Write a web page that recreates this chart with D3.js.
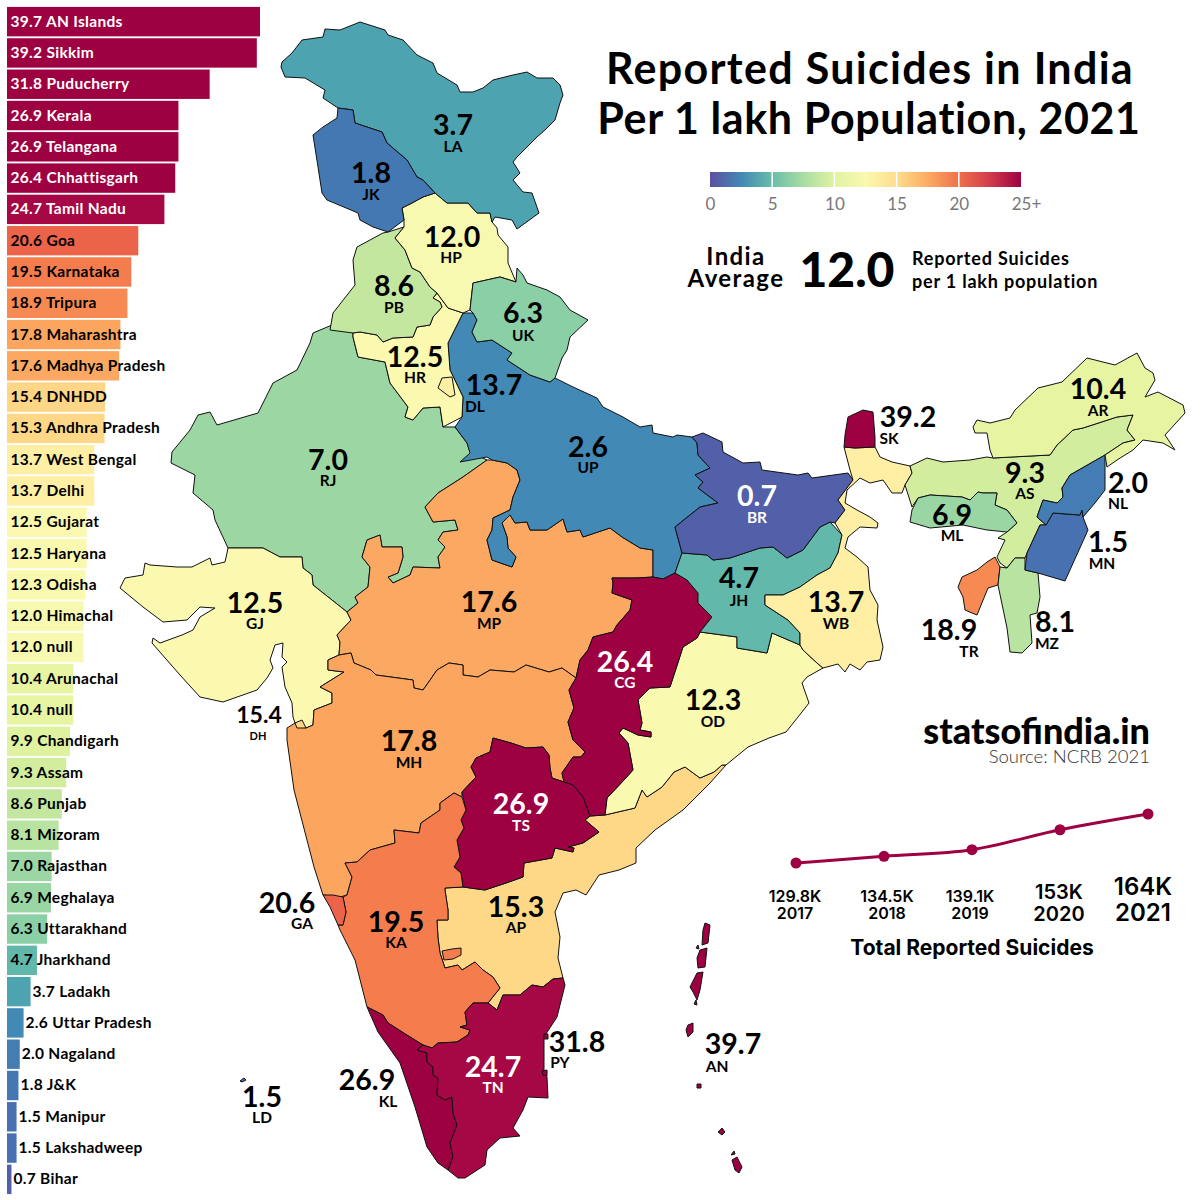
<!DOCTYPE html>
<html>
<head>
<meta charset="utf-8">
<script src="https://cdn.jsdelivr.net/npm/d3@7"></script>
<style>
  html, body { margin: 0; background: #fff; }
  svg { display: block; }
  text { font-family: Lato, sans-serif; font-weight: 700; fill: #000; }
</style>
</head>
<body>
<svg width="1201" height="1200"></svg>
<script>
// Ranking on the left
const barNames = ["AN Islands", "Sikkim", "Puducherry", "Kerala", "Telangana", "Chhattisgarh", "Tamil Nadu", "Goa", "Karnataka", "Tripura", "Maharashtra", "Madhya Pradesh", "DNHDD", "Andhra Pradesh", "West Bengal", "Delhi", "Gujarat", "Haryana", "Odisha", "Himachal", "null", "Arunachal", "null", "Chandigarh", "Assam", "Punjab", "Mizoram", "Rajasthan", "Meghalaya", "Uttarakhand", "Jharkhand", "Ladakh", "Uttar Pradesh", "Nagaland", "J&K", "Manipur", "Lakshadweep", "Bihar"];
const barValues = [39.7, 39.2, 31.8, 26.9, 26.9, 26.4, 24.7, 20.6, 19.5, 18.9, 17.8, 17.6, 15.4, 15.3, 13.7, 13.7, 12.5, 12.5, 12.3, 12.0, 12.0, 10.4, 10.4, 9.9, 9.3, 8.6, 8.1, 7.0, 6.9, 6.3, 4.7, 3.7, 2.6, 2.0, 1.8, 1.5, 1.5, 0.7];

// Map values
const stateCodes = ["LA", "JK", "HP", "PB", "HR", "UK", "DL", "RJ", "UP", "BR", "JH", "WB", "MP", "CG", "GJ", "OD", "MH", "TS", "AP", "KA", "TN", "KL", "PY", "AN", "LD", "GA", "DH", "SK", "AR", "AS", "NL", "ML", "MN", "MZ", "TR"];
const stateRates = [3.7, 1.8, 12.0, 8.6, 12.5, 6.3, 13.7, 7.0, 2.6, 0.7, 4.7, 13.7, 17.6, 26.4, 12.5, 12.3, 17.8, 26.9, 15.3, 19.5, 24.7, 26.9, 31.8, 39.7, 1.5, 20.6, 15.4, 39.2, 10.4, 9.3, 2.0, 6.9, 1.5, 8.1, 18.9];

// Small line chart
const totalYears = [2017, 2018, 2019, 2020, 2021];
const totalValues = [129.8, 134.5, 139.1, 153, 164];
const totalLabels = ["129.8K", "134.5K", "139.1K", "153K", "164K"];

const legendTicks = [0, 5, 10, 15, 20, 25];

// Traced outlines, in map units, drawn in this order
const shapes = {
  RJ: [[[332,325],[313,333],[310,343],[297,370],[273,383],[258,413],[217,425],[210,412],[198,415],[190,430],[172,452],[171,463],[195,475],[193,493],[213,510],[215,520],[228,548],[243,548],[263,548],[280,557],[302,557],[303,568],[312,575],[313,585],[342,608],[347,612],[358,603],[355,597],[368,587],[370,567],[362,557],[367,540],[380,535],[382,547],[402,547],[403,557],[398,573],[388,577],[393,583],[410,575],[413,567],[440,568],[438,557],[445,547],[438,540],[443,532],[458,530],[455,520],[433,522],[425,507],[438,493],[463,477],[487,460],[470,452],[467,443],[455,427],[443,427],[440,407],[423,408],[413,420],[405,417],[408,407],[390,383],[385,362],[358,357],[353,337],[353,333]]],
  GJ: [[[228,548],[243,548],[263,548],[280,557],[302,557],[303,568],[312,575],[313,585],[342,608],[347,612],[351,620],[337,635],[340,642],[339,655],[328,660],[328,670],[344,672],[320,687],[332,693],[332,703],[314,710],[313,725],[306,728],[295,723],[293,717],[292,703],[285,687],[282,667],[287,662],[282,657],[283,643],[275,645],[270,660],[273,668],[267,678],[257,690],[223,702],[200,697],[180,675],[152,643],[153,638],[160,643],[182,635],[193,630],[200,617],[215,608],[200,607],[187,620],[163,622],[143,607],[120,588],[125,578],[143,575],[145,563],[150,565],[177,567],[192,567],[210,558],[212,565],[225,562],[227,553]]],
  MP: [[[347,612],[358,603],[355,597],[368,587],[370,567],[362,557],[367,540],[380,535],[382,547],[402,547],[403,557],[398,573],[388,577],[393,583],[410,575],[413,567],[440,568],[438,557],[445,547],[438,540],[443,532],[458,530],[455,520],[433,522],[425,507],[438,493],[463,477],[487,460],[492,460],[507,463],[517,470],[520,480],[513,497],[510,510],[493,518],[492,530],[487,540],[492,560],[512,567],[516,557],[508,548],[507,537],[502,523],[510,515],[515,523],[527,522],[530,530],[547,530],[563,519],[567,532],[580,530],[583,537],[610,528],[622,537],[640,548],[653,550],[653,577],[637,578],[612,578],[613,583],[612,593],[632,600],[630,610],[617,625],[613,632],[593,637],[588,650],[580,660],[576,678],[562,668],[549,672],[526,665],[514,672],[490,670],[478,677],[463,675],[463,665],[449,663],[437,670],[428,683],[423,690],[414,688],[413,680],[376,675],[371,670],[354,663],[351,653],[339,655],[340,642],[337,635],[351,620]]],
  MH: [[[339,655],[351,653],[354,663],[371,670],[376,675],[413,680],[414,688],[423,690],[428,683],[437,670],[449,663],[463,665],[463,675],[478,677],[490,670],[514,672],[526,665],[549,672],[562,668],[576,678],[569,690],[574,708],[568,722],[573,740],[585,752],[581,757],[573,757],[562,773],[564,782],[552,778],[550,768],[549,755],[543,747],[526,748],[511,743],[493,738],[490,752],[476,758],[471,767],[476,777],[462,792],[462,797],[454,793],[440,803],[440,810],[421,823],[419,833],[394,830],[395,843],[370,850],[357,862],[345,863],[352,877],[347,895],[340,897],[323,895],[314,867],[294,790],[287,740],[287,728],[295,723],[306,728],[313,725],[314,710],[332,703],[332,693],[320,687],[344,672],[328,670],[328,660]]],
  UP: [[[463,313],[473,313],[477,320],[472,332],[477,342],[492,340],[512,353],[507,360],[530,375],[550,382],[555,378],[573,387],[597,398],[603,407],[623,417],[640,427],[652,425],[653,433],[673,437],[677,435],[692,437],[697,443],[698,455],[710,468],[695,475],[703,482],[698,488],[718,503],[700,507],[675,527],[682,553],[675,573],[663,579],[653,577],[653,550],[640,548],[622,537],[610,528],[583,537],[580,530],[567,532],[563,519],[547,530],[530,530],[527,522],[515,523],[510,515],[502,523],[507,537],[508,548],[516,557],[512,567],[492,560],[487,540],[492,530],[493,518],[510,510],[513,497],[520,480],[517,470],[507,463],[492,460],[487,457],[460,462],[470,453],[467,443],[455,427],[462,417],[463,397],[450,370],[448,343]]],
  HR: [[[437,293],[448,308],[463,313],[448,343],[450,370],[463,397],[462,417],[443,427],[440,407],[423,408],[413,420],[405,417],[408,407],[390,383],[385,362],[358,357],[353,337],[353,333],[360,332],[377,335],[383,342],[393,338],[413,337],[417,327],[430,325],[433,317],[442,307],[440,302],[433,298]]],
  DL: [[[442,378],[452,377],[455,395],[450,397],[438,388]]],
  PB: [[[388,232],[404,227],[395,238],[405,250],[412,268],[420,272],[430,287],[437,293],[433,298],[440,302],[442,307],[433,317],[430,325],[417,327],[413,337],[393,338],[383,342],[377,335],[360,332],[353,333],[330,330],[333,313],[355,285],[353,260],[357,247],[383,233]]],
  HP: [[[435,193],[447,203],[468,203],[477,213],[490,213],[492,222],[497,228],[498,235],[508,247],[508,263],[516,282],[500,277],[473,283],[470,310],[463,313],[448,308],[437,293],[430,287],[420,272],[412,268],[405,250],[395,238],[404,227],[404,220],[402,208],[412,203],[423,197]]],
  UK: [[[516,282],[517,268],[523,275],[527,283],[547,290],[560,297],[570,310],[588,320],[570,337],[567,350],[562,358],[555,378],[550,382],[530,375],[507,360],[512,353],[492,340],[477,342],[472,332],[477,320],[473,313],[470,310],[473,283],[500,277]]],
  LA: [[[282,62],[292,53],[302,40],[323,37],[325,29],[340,30],[360,22],[385,30],[388,35],[403,40],[417,55],[433,63],[437,73],[457,85],[460,92],[473,92],[483,88],[493,80],[513,75],[527,72],[537,78],[553,78],[560,85],[563,95],[560,103],[555,120],[545,130],[537,137],[517,157],[513,162],[520,173],[513,180],[523,192],[532,193],[539,213],[517,229],[512,220],[495,217],[492,222],[490,213],[477,213],[468,203],[447,203],[435,193],[423,180],[417,177],[407,160],[387,143],[382,132],[355,123],[353,110],[338,108],[323,98],[325,90],[305,78],[285,77],[281,67]]],
  JK: [[[338,108],[353,110],[355,123],[382,132],[387,143],[407,160],[417,177],[423,180],[435,193],[423,197],[412,203],[402,208],[404,220],[388,232],[373,227],[360,220],[358,213],[327,200],[322,193],[318,167],[313,135],[323,127],[337,118]]],
  AP: [[[585,820],[590,816],[605,815],[635,808],[642,790],[647,797],[662,787],[674,772],[685,767],[700,778],[714,772],[722,765],[726,765],[710,783],[683,810],[655,830],[636,848],[636,863],[619,870],[599,875],[586,895],[576,890],[563,893],[555,912],[560,937],[558,958],[563,978],[553,979],[543,987],[532,985],[520,995],[503,995],[497,1010],[488,1003],[500,988],[493,977],[483,970],[475,962],[462,970],[458,965],[445,968],[440,953],[438,938],[437,920],[448,920],[448,910],[445,890],[445,888],[463,887],[485,890],[506,883],[523,877],[524,863],[552,858],[555,848],[573,852],[574,848],[568,847],[583,843],[599,832]]],
  OD: [[[697,638],[700,632],[737,637],[737,648],[767,653],[772,633],[800,645],[803,650],[817,663],[823,668],[807,677],[802,683],[809,703],[798,717],[786,732],[769,738],[748,747],[726,765],[722,765],[714,772],[700,778],[685,767],[674,772],[662,787],[647,797],[642,790],[635,808],[605,815],[607,798],[624,780],[633,770],[628,743],[619,733],[623,728],[638,735],[651,737],[651,732],[640,730],[642,723],[638,700],[650,688],[670,687],[683,647]]],
  CG: [[[612,578],[637,578],[653,577],[663,579],[675,573],[687,580],[698,593],[698,603],[712,617],[700,632],[697,638],[683,647],[670,687],[650,688],[638,700],[642,723],[640,730],[651,732],[651,737],[638,735],[623,728],[619,733],[628,743],[633,770],[624,780],[607,798],[605,815],[590,816],[583,797],[573,785],[564,782],[562,773],[573,757],[581,757],[585,752],[573,740],[568,722],[574,708],[569,690],[576,678],[580,660],[588,650],[593,637],[613,632],[617,625],[630,610],[632,600],[612,593],[613,583]]],
  TS: [[[493,738],[511,743],[526,748],[543,747],[549,755],[550,768],[552,778],[564,782],[573,785],[583,797],[590,816],[585,820],[599,832],[583,843],[568,847],[574,848],[573,852],[555,848],[552,858],[524,863],[523,877],[506,883],[485,890],[463,887],[461,873],[454,867],[460,857],[457,840],[464,828],[461,820],[466,810],[462,792],[476,777],[471,767],[476,758],[490,752]]],
  KA: [[[462,797],[466,810],[461,820],[464,828],[457,840],[460,857],[454,867],[461,873],[463,887],[445,888],[445,890],[448,910],[448,920],[437,920],[438,938],[440,953],[445,968],[458,965],[462,970],[475,962],[483,970],[493,977],[500,988],[488,1003],[473,1003],[465,1012],[467,1025],[460,1027],[470,1030],[468,1035],[457,1042],[438,1043],[432,1048],[423,1045],[410,1037],[388,1023],[383,1015],[367,1007],[355,960],[340,930],[338,925],[343,925],[346,912],[343,897],[347,895],[352,877],[345,863],[357,862],[370,850],[395,843],[394,830],[419,833],[421,823],[440,810],[440,803],[454,793]],
       [[442,951],[452,949],[461,948],[461,955],[453,959],[444,960]]],
  GA: [[[323,895],[333,895],[343,897],[346,912],[343,925],[338,925],[330,907]]],
  KL: [[[367,1007],[383,1015],[388,1023],[410,1037],[423,1045],[417,1050],[427,1053],[427,1062],[433,1067],[433,1075],[438,1078],[437,1095],[445,1100],[452,1097],[453,1113],[457,1125],[450,1143],[453,1157],[448,1170],[438,1163],[427,1147],[415,1107],[400,1063],[378,1032]]],
  TN: [[[553,979],[563,978],[565,985],[557,1017],[544,1037],[544,1072],[547,1077],[548,1098],[528,1097],[523,1110],[513,1128],[520,1136],[500,1138],[487,1150],[485,1165],[465,1178],[458,1178],[448,1170],[453,1157],[450,1143],[457,1125],[453,1113],[452,1097],[445,1100],[437,1095],[438,1078],[433,1075],[433,1067],[427,1062],[427,1053],[417,1050],[423,1045],[432,1048],[438,1043],[457,1042],[468,1035],[470,1030],[460,1027],[467,1025],[465,1012],[473,1003],[488,1003],[497,1010],[503,995],[520,995],[532,985],[543,987]]],
  PY: [[[544,1034],[548,1034],[548,1039],[544,1039]], [[542,1071],[547,1070],[547,1076],[543,1075]]],
  JH: [[[682,553],[707,555],[713,560],[730,558],[760,548],[773,547],[787,558],[803,550],[820,527],[830,522],[842,535],[838,553],[830,568],[817,575],[800,587],[783,595],[765,595],[765,605],[788,620],[800,633],[800,645],[772,633],[767,653],[737,648],[737,637],[700,632],[712,617],[698,603],[698,593],[687,580],[675,573]]],
  BR: [[[692,437],[703,433],[722,442],[723,452],[743,463],[760,462],[762,470],[798,475],[808,473],[812,478],[848,473],[853,480],[838,500],[845,510],[835,523],[830,522],[820,527],[803,550],[787,558],[773,547],[760,548],[730,558],[713,560],[707,555],[682,553],[675,527],[700,507],[718,503],[698,488],[703,482],[695,475],[710,468],[698,455],[697,443]]],
  WB: [[[844,447],[855,448],[875,447],[880,457],[892,462],[910,466],[912,473],[905,485],[902,493],[892,493],[883,480],[870,483],[860,478],[847,490],[845,503],[857,510],[870,517],[878,523],[877,528],[860,527],[848,537],[845,548],[857,557],[868,567],[870,590],[878,605],[877,620],[883,647],[880,660],[867,662],[860,670],[850,664],[845,672],[838,664],[823,668],[817,663],[803,650],[800,645],[800,633],[788,620],[765,605],[765,595],[783,595],[800,587],[817,575],[830,568],[838,553],[842,535],[835,523],[845,510],[838,500],[853,480],[850,470]]],
  SK: [[[848,417],[863,410],[873,412],[875,437],[875,447],[855,448],[844,447],[845,435]]],
  AS: [[[910,466],[927,458],[943,462],[970,460],[987,457],[993,458],[1050,455],[1057,445],[1073,430],[1083,428],[1117,417],[1133,415],[1127,430],[1135,440],[1123,443],[1105,455],[1070,475],[1062,488],[1063,497],[1057,503],[1043,500],[1037,517],[1046,525],[1040,525],[1027,553],[1025,558],[1015,558],[1007,568],[1000,563],[997,557],[1005,540],[998,538],[1007,532],[1017,523],[1007,510],[995,505],[997,493],[983,493],[978,492],[970,500],[962,497],[930,495],[918,498],[912,507],[905,485],[912,473]]],
  ML: [[[912,510],[918,498],[930,495],[962,497],[970,500],[978,492],[983,493],[997,493],[995,505],[1007,510],[1017,523],[1007,532],[987,530],[963,525],[930,528],[910,522]]],
  TR: [[[995,557],[1000,567],[998,585],[988,588],[977,615],[972,613],[965,610],[963,597],[958,587],[962,577],[977,570],[987,562]]],
  MZ: [[[1000,567],[1007,568],[1015,558],[1025,558],[1025,570],[1038,573],[1040,597],[1037,613],[1030,615],[1032,643],[1022,653],[1010,652],[1007,628],[998,585]]],
  MN: [[[1046,525],[1053,513],[1080,515],[1082,510],[1083,517],[1088,530],[1065,581],[1038,573],[1025,570],[1027,553],[1040,525]]],
  NL: [[[1105,455],[1105,490],[1095,503],[1083,517],[1082,510],[1080,515],[1053,513],[1046,525],[1037,517],[1043,500],[1057,503],[1063,497],[1062,488],[1070,475]]],
  AR: [[[973,427],[977,420],[990,423],[1010,418],[1015,410],[1038,388],[1062,382],[1087,358],[1115,365],[1137,353],[1145,368],[1153,373],[1155,380],[1145,397],[1158,392],[1183,405],[1185,413],[1165,435],[1175,450],[1163,443],[1143,440],[1133,450],[1117,460],[1107,467],[1105,455],[1123,443],[1135,440],[1127,430],[1133,415],[1117,417],[1083,428],[1073,430],[1057,445],[1050,455],[993,458],[990,450],[987,433],[975,433]]],
  DH: [[[295,723],[302,720],[306,728],[297,728]]],
  AN: [[[705,923],[710,925],[708,943],[702,945],[703,930]], [[700,950],[707,948],[705,967],[698,968],[697,958]], [[696,948],[698,945],[699,949]], [[697,973],[703,972],[700,990],[697,1000],[693,992],[690,987]], [[694,1004],[696,1000],[697,1005]], [[688,1025],[693,1023],[693,1032],[688,1037],[686,1030]], [[697,1084],[701,1084],[701,1088],[697,1088]], [[722,1128],[725,1132],[722,1135],[718,1132]], [[732,1160],[737,1157],[742,1167],[739,1173],[735,1170]], [[731,1155],[734,1151],[735,1154]]],
  LD: [[[240,1081],[244,1078],[246,1080],[242,1082]]]
};

// code: value x, value baseline, code x, code baseline
const labelSpots = {
  LA: [453,135,453,152], JK: [371,183,371,200], HP: [452,247,451,263], PB: [394,296,394,313],
  HR: [415,367,415,383], UK: [523,323,523,341], DL: [494,395,475,412], RJ: [328,470,328,486],
  UP: [588,457,588,473], BR: [757,506,757,523], JH: [739,588,739,606], WB: [836,612,836,629],
  MP: [489,612,489,629], CG: [625,672,625,688], GJ: [255,613,255,629], OD: [713,710,713,727],
  MH: [409,751,409,768], TS: [521,814,521,831], AP: [516,917,516,933], KA: [396,932,396,948],
  TN: [493,1077,493,1093], KL: [367,1090,388,1107], PY: [577,1052,560,1068], AN: [733,1054,717,1072],
  LD: [262,1107,262,1123], GA: [287,913,302,929], DH: [259,723,258,740], SK: [908,427,889,444],
  AR: [1098,399,1098,416], AS: [1025,483,1025,499], NL: [1128,493,1118,509], ML: [952,525,952,541],
  MN: [1108,552,1102,569], MZ: [1055,632,1047,649], TR: [949,640,969,657]
};
const whiteLabels = ["BR", "CG", "TS", "TN"];

const svg = d3.select("svg");

// Colour scale, reversed Spectral capped at 25
const color = d3.scaleSequential(t => d3.interpolateSpectral(1 - t)).domain([0, 25]).clamp(true);

// Ranking bars
const barX = d3.scaleLinear().domain([0, 39.7]).range([7, 260]);
const barY = d3.scaleBand().domain(d3.range(barNames.length)).range([6, 1195]).paddingInner(0.06).paddingOuter(0.03);

const rows = svg.append("g").selectAll("g")
  .data(barNames)
  .enter()
  .append("g")
  .attr("transform", (d, i) => `translate(0,${barY(i)})`);

rows.append("rect")
  .attr("x", barX(0))
  .attr("width", (d, i) => barX(barValues[i]) - barX(0))
  .attr("height", barY.bandwidth())
  .attr("fill", (d, i) => color(barValues[i]));

rows.append("text")
  .attr("x", (d, i) => barValues[i] > 4 ? 10.5 : barX(barValues[i]) + 2)
  .attr("y", barY.bandwidth() / 2 + 5)
  .attr("font-size", 15.5)
  .style("letter-spacing", "0.3px")
  .style("fill", (d, i) => barValues[i] > 24 ? "#fff" : "#000")
  .text((d, i) => barValues[i].toFixed(1) + " " + d);

// Map
const rateByCode = new Map(stateCodes.map((c, i) => [c, stateRates[i]]));
const path = d3.geoPath(d3.geoIdentity());
const features = Object.keys(shapes).map(code => ({
  type: "Feature",
  id: code,
  geometry: {
    type: "MultiPolygon",
    coordinates: shapes[code].map(ring => [ring.concat([ring[0]])])
  }
}));

svg.append("g").selectAll("path")
  .data(features)
  .enter()
  .append("path")
  .attr("d", path)
  .attr("fill", d => color(rateByCode.get(d.id)))
  .attr("stroke", "#111")
  .attr("stroke-width", 1)
  .attr("stroke-linejoin", "round");

// Value and code sit in one text element, two lines
const mapLabels = svg.append("g").selectAll("text")
  .data(stateCodes)
  .enter()
  .append("text")
  .attr("text-anchor", "middle")
  .style("fill", d => whiteLabels.includes(d) ? "#fff" : "#000");

mapLabels.append("tspan")
  .attr("x", d => labelSpots[d][0])
  .attr("y", d => labelSpots[d][1])
  .attr("font-size", d => d === "DH" ? 23 : 28.5)
  .text(d => rateByCode.get(d).toFixed(1));

mapLabels.append("tspan")
  .attr("x", d => labelSpots[d][2])
  .attr("y", d => labelSpots[d][3])
  .attr("font-size", d => d === "DH" ? 11 : 15.5)
  .text(d => d);

// Title
const title = svg.append("text").attr("text-anchor", "middle").attr("font-size", 43);
title.append("tspan").attr("x", 870).attr("y", 84).style("letter-spacing", "1.3px").text("Reported Suicides in India");
title.append("tspan").attr("x", 869).attr("y", 134).style("letter-spacing", "0.6px").text("Per 1 lakh Population, 2021");

// Colour legend
const legendX = d3.scaleLinear().domain([0, 25]).range([710, 1021]);
const defs = svg.append("defs");
const grad = defs.append("linearGradient").attr("id", "legend-grad");
d3.range(0, 1.01, 0.1).forEach(t => {
  grad.append("stop").attr("offset", t).attr("stop-color", color(t * 25));
});

svg.append("rect")
  .attr("x", legendX(0))
  .attr("y", 172)
  .attr("width", legendX(25) - legendX(0))
  .attr("height", 15)
  .attr("fill", "url(#legend-grad)");

svg.append("g").selectAll("line")
  .data(legendTicks.slice(1, -1))
  .enter()
  .append("line")
  .attr("x1", d => legendX(d))
  .attr("x2", d => legendX(d))
  .attr("y1", 172)
  .attr("y2", 187)
  .attr("stroke", "#fff")
  .attr("stroke-width", 1.5);

const legendAxis = d3.axisBottom(legendX)
  .tickValues(legendTicks)
  .tickSize(0)
  .tickPadding(0)
  .tickFormat(d => d === 25 ? "25+" : d);

const legendG = svg.append("g")
  .attr("transform", "translate(0,198)")
  .call(legendAxis);
legendG.select(".domain").remove();
legendG.selectAll("text")
  .attr("dx", d => d === 25 ? 5 : 0)
  .style("font-family", "Lato, sans-serif")
  .style("font-weight", 400)
  .style("font-size", "17px")
  .style("fill", "#777");

// India average
const avgLabel = svg.append("text").attr("text-anchor", "middle").attr("font-size", 24).style("letter-spacing", "1.4px");
avgLabel.append("tspan").attr("x", 736).attr("y", 265).text("India");
avgLabel.append("tspan").attr("x", 736).attr("y", 287).text("Average");
svg.append("text").attr("x", 847).attr("y", 287).attr("text-anchor", "middle").attr("font-size", 48).style("font-weight", 900).text("12.0");
svg.append("text").attr("x", 912).attr("y", 265).attr("font-size", 18).style("letter-spacing", "0.8px").text("Reported Suicides");
svg.append("text").attr("x", 912).attr("y", 288).attr("font-size", 18).style("letter-spacing", "0.8px").text("per 1 lakh population");

// Credit
const credit = svg.append("text").attr("text-anchor", "end");
credit.append("tspan").attr("x", 1150).attr("y", 744).attr("font-size", 36).style("font-weight", 900).text("statsofindia.in");
credit.append("tspan").attr("x", 1150).attr("y", 763).attr("font-size", 18.5).style("font-weight", 300).style("fill", "#333").text("Source: NCRB 2021");

// Total suicides line
const lineX = d3.scaleLinear().domain([2017, 2021]).range([796, 1148]);
const lineY = d3.scaleLinear().domain([129.8, 164]).range([863, 814]);
const line = d3.line()
  .x((d, i) => lineX(totalYears[i]))
  .y(d => lineY(d))
  .curve(d3.curveMonotoneX);

svg.append("path")
  .attr("d", line(totalValues))
  .attr("fill", "none")
  .attr("stroke", "#9e0142")
  .attr("stroke-width", 3);

svg.append("g").selectAll("circle")
  .data(totalValues)
  .enter()
  .append("circle")
  .attr("cx", (d, i) => lineX(totalYears[i]))
  .attr("cy", d => lineY(d))
  .attr("r", 5.5)
  .attr("fill", "#9e0142");

// Later years are set larger in the reference
const totalX = [795, 887, 970, 1059, 1143];
const totalY = [902, 902, 902, 899, 895];
const totalSize = [16, 16, 16, 20, 24];

const totalText = svg.append("g").attr("text-anchor", "middle").selectAll("text")
  .data(totalLabels)
  .enter()
  .append("text")
  .attr("font-size", (d, i) => totalSize[i])
  .style("font-family", "Inter, sans-serif")
  .style("font-weight", 600);

totalText.append("tspan")
  .attr("x", (d, i) => totalX[i])
  .attr("y", (d, i) => totalY[i])
  .text(d => d);

totalText.append("tspan")
  .attr("x", (d, i) => totalX[i])
  .attr("y", (d, i) => i > 2 ? 921 : 919)
  .text((d, i) => totalYears[i]);

svg.append("text").attr("x", 972).attr("y", 955).attr("text-anchor", "middle").attr("font-size", 21)
  .style("font-family", "Inter, sans-serif").text("Total Reported Suicides");
</script>
</body>
</html>
